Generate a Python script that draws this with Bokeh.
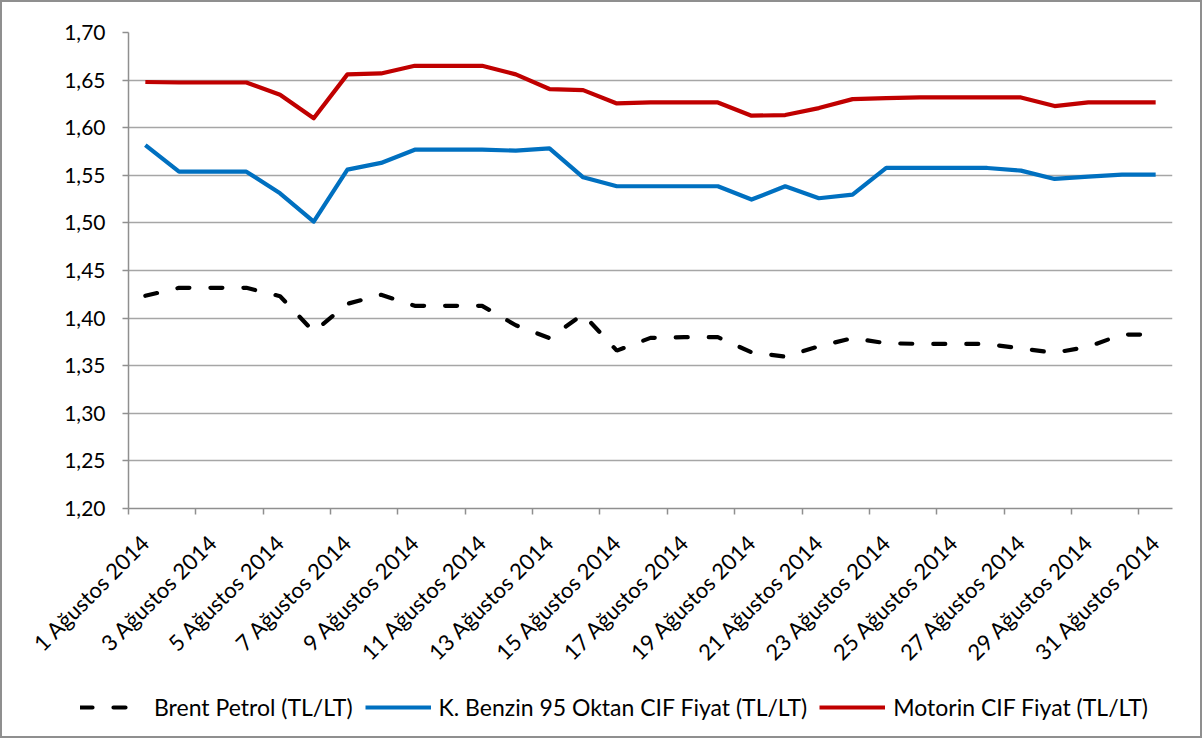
import math
from bokeh.plotting import figure
from bokeh.layouts import column
from bokeh.models import (Range1d, FixedTicker, CustomJSTickFormatter, Legend, LegendItem,
                          ColumnDataSource)
from bokeh.embed import file_html
from bokeh.resources import INLINE

# ---- data ----
days = list(range(1, 32))
tick_days = list(range(1, 32, 2))
tick_labels = [f"{d} Ağustos 2014" for d in tick_days]

brent = [1.4234, 1.4318, 1.4318, 1.4318, 1.4230, 1.3857, 1.4150, 1.4245, 1.4129, 1.4129,
         1.4129, 1.3925, 1.3790, 1.4040, 1.3658, 1.3792, 1.3800, 1.3800, 1.3640, 1.3595,
         1.3704, 1.3789, 1.3736, 1.3729, 1.3729, 1.3729, 1.3680, 1.3636, 1.3700, 1.3827,
         1.3827]
benzin = [1.5818, 1.5538, 1.5538, 1.5538, 1.5311, 1.5014, 1.5560, 1.5630, 1.5769, 1.5769,
          1.5769, 1.5759, 1.5783, 1.5479, 1.5385, 1.5385, 1.5385, 1.5385, 1.5245, 1.5385,
          1.5259, 1.5297, 1.5577, 1.5577, 1.5577, 1.5577, 1.5549, 1.5462, 1.5486, 1.5507,
          1.5507]
motorin = [1.6480, 1.6475, 1.6475, 1.6475, 1.6346, 1.6100, 1.6560, 1.6570, 1.6650, 1.6650,
           1.6650, 1.6560, 1.6406, 1.6395, 1.6255, 1.6265, 1.6265, 1.6265, 1.6126, 1.6133,
           1.6206, 1.6300, 1.6311, 1.6318, 1.6318, 1.6318, 1.6318, 1.6227, 1.6266, 1.6266,
           1.6266]
series_names = ["Brent Petrol (TL/LT)", "K. Benzin 95 Oktan CIF Fiyat (TL/LT)",
                "Motorin CIF Fiyat (TL/LT)"]
y_ticks = [1.20, 1.25, 1.30, 1.35, 1.40, 1.45, 1.50, 1.55, 1.60, 1.65, 1.70]

FONT = "Lato"
styles = {
    "brent": dict(line_color="black", line_width=4.2, line_dash="12 21", line_cap="round"),
    "benzin": dict(line_color="#0070C0", line_width=4.2, line_join="round"),
    "motorin": dict(line_color="#C00000", line_width=4.2, line_join="round"),
}

p = figure(width=1198, height=676, output_backend="svg", toolbar_location=None,
           x_range=Range1d(0.5, 31.5), y_range=Range1d(1.20, 1.70),
           min_border_left=126, min_border_right=28, min_border_top=30, min_border_bottom=170)
p.outline_line_color = None
p.background_fill_color = "white"
p.border_fill_color = "white"

src = ColumnDataSource(dict(day=days, brent=brent, benzin=benzin, motorin=motorin))
for key in ["brent", "benzin", "motorin"]:
    p.line("day", key, source=src, **styles[key])

# x axis
xa = p.xaxis[0]
xa.ticker = FixedTicker(ticks=tick_days, minor_ticks=[d - 0.5 for d in tick_days])
xa.major_label_overrides = {d: lab for d, lab in zip(tick_days, tick_labels)}
xa.major_label_orientation = math.pi / 4
xa.major_tick_line_color = None
xa.minor_tick_line_color = "#8f8f8f"
xa.minor_tick_line_width = 1.5
xa.minor_tick_in = 0
xa.minor_tick_out = 6
xa.axis_line_color = "#8f8f8f"
xa.axis_line_width = 1.5
xa.major_label_text_font = FONT
xa.major_label_text_font_size = "22px"
xa.major_label_text_color = "black"
xa.major_label_standoff = 24

# y axis
ya = p.yaxis[0]
ya.ticker = FixedTicker(ticks=y_ticks)
ya.formatter = CustomJSTickFormatter(code="return tick.toFixed(2).replace('.', ',');")
ya.minor_tick_line_color = None
ya.major_tick_in = 0
ya.major_tick_out = 6
ya.major_tick_line_color = "#8f8f8f"
ya.major_tick_line_width = 1.5
ya.axis_line_color = "#8f8f8f"
ya.axis_line_width = 1.5
ya.major_label_text_font = FONT
ya.major_label_text_font_size = "21px"
ya.major_label_text_color = "black"
ya.major_label_standoff = 17

p.xgrid.grid_line_color = None
p.ygrid.grid_line_color = "#a6a6a6"
p.ygrid.grid_line_width = 1.5

# legend strip (its own plot; the series lie outside its visible range)
p2 = figure(width=1198, height=58, output_backend="svg", toolbar_location=None,
            x_range=Range1d(0.5, 31.5), y_range=Range1d(10, 11),
            x_axis_location=None, y_axis_location=None,
            min_border_left=0, min_border_right=0, min_border_top=0, min_border_bottom=0)
p2.outline_line_color = None
p2.xgrid.grid_line_color = None
p2.ygrid.grid_line_color = None
for fig in (p, p2):
    try:
        fig.frame_align = False
    except AttributeError:
        pass
items = []
for key, name in zip(["brent", "benzin", "motorin"], series_names):
    r = p2.line("day", key, source=src, **styles[key])
    items.append(LegendItem(label=name, renderers=[r]))
legend = Legend(items=items, orientation="horizontal", location=(78, 15),
                glyph_width=66, glyph_height=20, label_standoff=8, spacing=12,
                padding=4, margin=0, border_line_color=None, background_fill_alpha=0,
                label_text_font=FONT, label_text_font_size="23px", label_text_color="black")
p2.add_layout(legend, "center")

layout = column(p, p2, spacing=0, styles={"border": "2px solid #8f8f8f"})

open("out.html", "w").write(file_html(layout, INLINE))
